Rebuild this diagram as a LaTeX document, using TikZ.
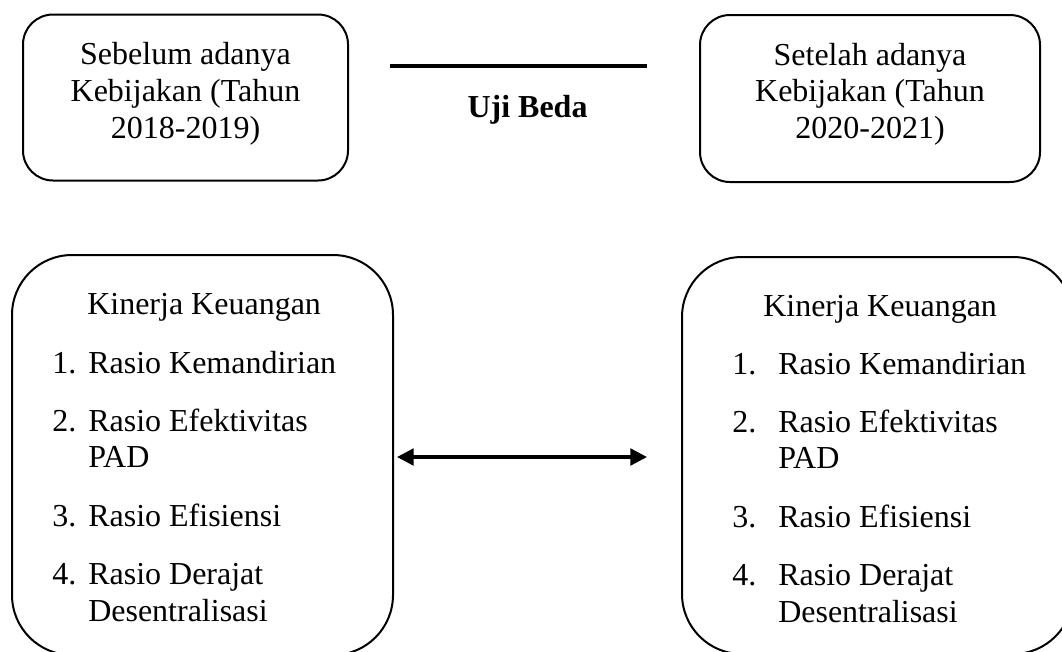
\documentclass[tikz,border=0pt]{standalone}
\usepackage{fontspec}
\setmainfont{Liberation Serif}
\usetikzlibrary{arrows.meta}
\tikzset{
  txt/.style={font=\fontsize{24}{27.6}\selectfont, inner sep=0pt},
  topbox/.style={draw, line width=1.5pt, rounded corners=22.5pt, inner sep=0pt},
  bigbox/.style={draw, line width=1.5pt, rounded corners=45pt, inner sep=0pt},
}
\begin{document}
\begin{tikzpicture}[x=0.75pt,y=-0.75pt]
\useasboundingbox (0,0) rectangle (1062,651);
\node[topbox, minimum width=243.75pt, minimum height=124.5pt] (sb) at (185.5,97.5) {};
\node[txt, align=center] (sbt) at ([yshift=2.6pt]sb.center) {Sebelum adanya\\Kebijakan (Tahun\\2018-2019)};
\node[topbox, minimum width=255pt, minimum height=125.25pt] (st) at (870,98.5) {};
\node[txt, align=center] (stt) at ([yshift=3.2pt]st.center) {Setelah adanya\\Kebijakan (Tahun\\2020-2021)};
\coordinate (ua) at (390,66);
\coordinate (ub) at (647,66);
\draw[line width=3pt] (ua) -- (ub);
\node[txt, anchor=base, font=\fontsize{24}{27.6}\selectfont\bfseries] (uji) at (527.5,117) {Uji Beda};
% kinerja keuangan
\node[bigbox, minimum width=285.75pt, minimum height=300pt] (kl) at (202.5,455) {};
\node[txt, anchor=base west] (kla) at (87,314) {Kinerja Keuangan};
\node[txt, anchor=base west] (klb) at (52,373) {\begin{tabular}[t]{@{}l@{\hspace{9pt}}l@{}}
1.&Rasio Kemandirian\\[16pt]
2.&Rasio Efektivitas\\
&PAD\\[16pt]
3.&Rasio Efisiensi\\[16pt]
4.&Rasio Derajat\\
&Desentralisasi
\end{tabular}};
\node[bigbox, minimum width=293.25pt, minimum height=297.75pt] (kr) at (877.5,455.5) {};
\node[txt, anchor=base west] (kra) at (763,316) {Kinerja Keuangan};
\node[txt, anchor=base west] (krb) at (732,374) {\begin{tabular}[t]{@{}l@{\hspace{16.5pt}}l@{}}
1.&Rasio Kemandirian\\[16pt]
2.&Rasio Efektivitas\\
&PAD\\[16pt]
3.&Rasio Efisiensi\\[16pt]
4.&Rasio Derajat\\
&Desentralisasi
\end{tabular}};
\coordinate (aa) at (397,457);
\coordinate (ab) at (647,457);
\draw[line width=2.4pt, {Triangle[length=12.5pt,width=12.5pt]}-{Triangle[length=12.5pt,width=12.5pt]}] (aa) -- (ab);
\end{tikzpicture}
\end{document}
